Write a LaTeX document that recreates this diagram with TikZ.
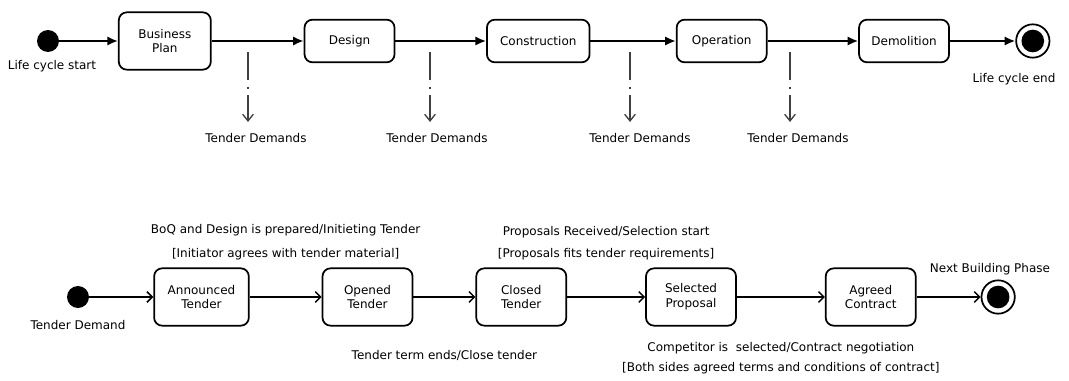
\documentclass[tikz,border=0pt]{standalone}
\usepackage{fontspec}
\setmainfont{DejaVu Sans}
\usepackage{tikz}
\usetikzlibrary{arrows.meta, positioning, calc}
\tikzset{
    statediagram/.style={x=0.75pt, y=-0.75pt, font=\fontsize{9}{11}\selectfont},
    state/.style={draw, rounded corners=6pt, line width=1.3pt, align=center, minimum width=67.5pt, minimum height=43pt, inner sep=2pt},
    startdot/.style={fill, circle, minimum size=16.5pt, inner sep=0pt},
    enddot/.style={draw, circle, line width=1.3pt, minimum size=25pt, inner sep=0pt,
        path picture={\fill (path picture bounding box.center) circle (8.5pt);}},
    % phase flow on the life cycle line
    phaseflow/.style={-{Latex[length=8pt, width=7pt]}, line width=1.5pt},
    % tender state changes
    tenderflow/.style={-{Straight Barb[length=4pt, width=8pt]}, line width=1.1pt},
    demand/.style={-{Straight Barb[length=5pt, width=8pt]}, line width=1pt, black!75,
        dash pattern=on 21pt off 5pt on 1.5pt off 5pt},
    guard/.style={align=center},
}
\begin{document}
\begin{tikzpicture}[statediagram]
    \useasboundingbox (0,0) rectangle (1069,381);

    % building life cycle
    \node[startdot]                                          (lcstart) at (48,41) {};
    \node                                                    (lcstartlbl) at (52,66) {Life cycle start};
    \node[state, minimum width=69pt, right=44pt of lcstart]  (plan)   {Business\\Plan};
    \node[state, minimum height=32pt, right=69pt of plan]    (design) {Design};
    \node[state, minimum height=32pt, minimum width=77pt, right=68pt of design] (constr) {Construction};
    \node[state, minimum height=32pt, right=64pt of constr]  (oper)   {Operation};
    \node[state, minimum height=32pt, right=68pt of oper]    (demol)  {Demolition};
    \node[enddot, right=49pt of demol]                       (lcend)  {};
    \node                                                    (lcendlbl) at (1014,79) {Life cycle end};

    \draw[phaseflow] (lcstart) -- (plan);
    \draw[phaseflow] (plan) -- (design);
    \draw[phaseflow] (design) -- (constr);
    \draw[phaseflow] (constr) -- (oper);
    \draw[phaseflow] (oper) -- (demol);
    \draw[phaseflow] (demol) -- (lcend);

    % tender demands raised by the phases
    \coordinate (dm1) at (248,52);
    \coordinate (dm2) at (430,52);
    \coordinate (dm3) at (630,52);
    \coordinate (dm4) at (790,52);
    \node (td1) at (256,138) {Tender Demands};
    \node (td2) at (437,138) {Tender Demands};
    \node (td3) at (640,138) {Tender Demands};
    \node (td4) at (798,138) {Tender Demands};
    \draw[demand] (dm1) -- ([yshift=5pt]dm1 |- td1.north);
    \draw[demand] (dm2) -- ([yshift=5pt]dm2 |- td2.north);
    \draw[demand] (dm3) -- ([yshift=5pt]dm3 |- td3.north);
    \draw[demand] (dm4) -- ([yshift=5pt]dm4 |- td4.north);

    % tender process
    \node[startdot]                                          (tdstart) at (78,297) {};
    \node                                                    (tdstartlbl) at (78,325) {Tender Demand};
    \node[state, minimum width=71pt, right=48pt of tdstart]  (announced) {Announced\\Tender};
    \node[state, right=54pt of announced]                    (opened)    {Opened\\Tender};
    \node[state, right=46.5pt of opened]                     (closed)    {Closed\\Tender};
    \node[state, right=58.5pt of closed]                     (selected)  {Selected\\Proposal};
    \node[state, right=66pt of selected]                     (agreed)    {Agreed\\Contract};
    \node[enddot, right=48pt of agreed]                      (nextphase) {};
    \node                                                    (nextlbl) at (990,269) {Next Building Phase};

    \draw[tenderflow] (tdstart) -- (announced);
    \draw[tenderflow] (announced) -- node[guard, above=24pt] {BoQ and Design is prepared/Initieting Tender\\[7pt][Initiator agrees with tender material]} (opened);
    \draw[tenderflow] (opened) -- node[guard, below=36pt] {Tender term ends/Close tender} (closed);
    \draw[tenderflow] (closed) -- node[guard, above=24pt] {Proposals Received/Selection start\\[5pt][Proposals fits tender requirements]} (selected);
    \draw[tenderflow] (selected) -- node[guard, below=30pt] {Competitor is\ \ selected/Contract negotiation\\[4pt][Both sides agreed terms and conditions of contract]} (agreed);
    \draw[tenderflow] (agreed) -- (nextphase);
\end{tikzpicture}
\end{document}
